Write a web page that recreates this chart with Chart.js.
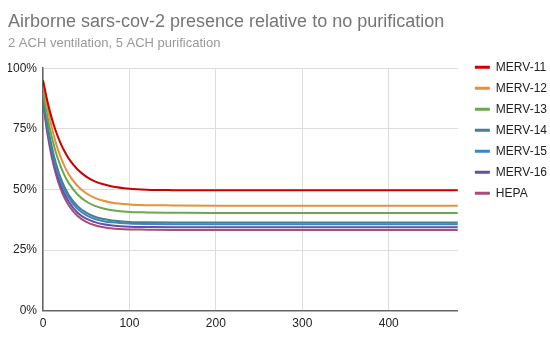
<!DOCTYPE html>
<html>
<head>
<meta charset="utf-8">
<script src="https://cdn.jsdelivr.net/npm/chart.js@4"></script>
<style>
  html, body { margin: 0; padding: 0; background: #fff; }
  #wrap { width: 550px; height: 338px; }
</style>
</head>
<body>
<div id="wrap"><canvas id="airChart" width="550" height="338"></canvas></div>
<script>
// minutes since start
const minutes = [0, 5, 10, 15, 20, 25, 30, 40, 50, 60, 70, 80, 100, 120, 150, 200, 250, 300, 350, 400, 450, 480];

// percent of airborne presence
const merv11 = [95, 86.5, 79.5, 73.9, 69.3, 65.6, 62.6, 58.2, 55.3, 53.3, 52.1, 51.2, 50.3, 49.9, 49.7, 49.6, 49.6, 49.6, 49.6, 49.6, 49.6, 49.6];
const merv12 = [95, 84.2, 75.8, 69.0, 63.7, 59.5, 56.1, 51.4, 48.4, 46.5, 45.3, 44.5, 43.8, 43.5, 43.4, 43.3, 43.3, 43.3, 43.3, 43.3, 43.3, 43.3];
const merv13 = [91, 80.3, 71.8, 65.1, 59.9, 55.7, 52.5, 47.9, 45.0, 43.2, 42.1, 41.4, 40.7, 40.5, 40.4, 40.3, 40.3, 40.3, 40.3, 40.3, 40.3, 40.3];
const merv14 = [89, 77.1, 67.9, 60.7, 55.2, 50.9, 47.6, 43.1, 40.4, 38.7, 37.8, 37.2, 36.6, 36.4, 36.3, 36.3, 36.3, 36.3, 36.3, 36.3, 36.3, 36.3];
const merv15 = [88, 75.9, 66.6, 59.4, 53.9, 49.6, 46.4, 42.0, 39.4, 37.8, 36.9, 36.4, 35.9, 35.7, 35.6, 35.6, 35.6, 35.6, 35.6, 35.6, 35.6, 35.6];
const merv16 = [87, 74.5, 65.1, 57.8, 52.2, 48.0, 44.8, 40.4, 37.9, 36.5, 35.6, 35.1, 34.6, 34.5, 34.4, 34.4, 34.4, 34.4, 34.4, 34.4, 34.4, 34.4];
const hepa   = [86, 73.2, 63.5, 56.2, 50.6, 46.4, 43.3, 39.0, 36.6, 35.2, 34.4, 33.9, 33.5, 33.4, 33.3, 33.3, 33.3, 33.3, 33.3, 33.3, 33.3, 33.3];

const seriesNames = ['MERV-11', 'MERV-12', 'MERV-13', 'MERV-14', 'MERV-15', 'MERV-16', 'HEPA'];
const seriesData = [merv11, merv12, merv13, merv14, merv15, merv16, hepa];
const seriesColors = ['#cc0000', '#e69138', '#6aa84f', '#45818e', '#3d85c6', '#674ea7', '#a64d79'];

const yTicks = [0, 25, 50, 75, 100];

const font = "Arial, 'Liberation Sans', sans-serif";

const datasets = seriesNames.map((name, i) => ({
    label: name,
    data: minutes.map((m, j) => ({ x: m, y: seriesData[i][j] })),
    borderColor: seriesColors[i],
    backgroundColor: seriesColors[i],
    borderWidth: 2,
    pointRadius: 0,
    cubicInterpolationMode: 'monotone',
    fill: false
}));

// nudge the legend up and right so it sits like the original
const legendShift = {
    id: 'legendShift',
    afterLayout(chart) {
        const lg = chart.legend;
        lg.top -= 16;
        lg.bottom -= 16;
        lg.left += 8;
        lg.right += 8;
    }
};

const ctx = document.getElementById('airChart').getContext('2d');

new Chart(ctx, {
    type: 'line',
    data: { datasets },
    plugins: [legendShift],
    options: {
        responsive: false,
        animation: false,
        layout: { padding: { left: 8, right: 1, top: 0, bottom: 1 } },
        plugins: {
            title: {
                display: true,
                text: 'Airborne sars-cov-2 presence relative to no purification',
                align: 'start',
                color: '#757575',
                font: { family: font, size: 18, weight: 'normal' },
                padding: { top: 11, bottom: 3 }
            },
            subtitle: {
                display: true,
                text: '2 ACH ventilation, 5 ACH purification',
                align: 'start',
                color: '#999999',
                font: { family: font, size: 13, weight: 'normal' },
                padding: { top: 0, bottom: 17 }
            },
            legend: {
                position: 'right',
                align: 'start',
                fullSize: false,
                labels: {
                    boxWidth: 15,
                    boxHeight: 3,
                    padding: 9,
                    color: '#222222',
                    font: { family: font, size: 12 },
                    generateLabels: (chart) => Chart.defaults.plugins.legend.labels.generateLabels(chart)
                        .map(item => ({ ...item, lineWidth: 0 }))
                }
            },
            tooltip: { enabled: false }
        },
        scales: {
            x: {
                type: 'linear',
                min: 0,
                max: 480,
                border: { color: '#666666', width: 1.5 },
                grid: { color: '#dddddd', drawTicks: false },
                ticks: {
                    stepSize: 100,
                    includeBounds: false,
                    color: '#222222',
                    padding: 6,
                    maxRotation: 0,
                    font: { family: font, size: 12 }
                }
            },
            y: {
                min: 0,
                max: 100,
                border: { color: '#666666', width: 1.5 },
                grid: { color: '#dddddd', drawTicks: false },
                afterBuildTicks: (axis) => { axis.ticks = yTicks.map(v => ({ value: v })); },
                afterFit: (axis) => { axis.width = 35; },
                ticks: {
                    color: '#222222',
                    padding: 6,
                    font: { family: font, size: 12 },
                    callback: (v) => v + '%'
                }
            }
        }
    }
});
</script>
</body>
</html>
